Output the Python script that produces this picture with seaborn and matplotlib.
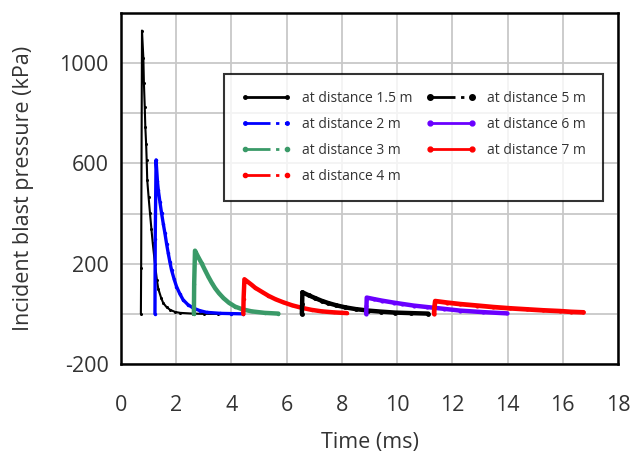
import matplotlib
matplotlib.use("Agg")
import matplotlib.pyplot as plt
from matplotlib.lines import Line2D
import seaborn as sns

# values (time in ms, pressure in kPa)
t_15 = [0.72, 0.73, 0.76, 0.81, 0.83, 0.86, 0.88, 0.91, 0.93, 0.95, 1.0, 1.05, 1.1, 1.15, 1.23, 1.3, 1.35, 1.45, 1.53, 1.65, 1.78, 1.95, 2.14, 2.6, 3.0, 3.5]
p_15 = [0, 183, 1130, 1020, 920, 827, 747, 678, 614, 534, 465, 401, 340, 282, 200, 135, 100, 65, 43, 27, 16, 8, 4, 1, 0, 0]

t_2 = [1.23, 1.24, 1.27, 1.32, 1.35, 1.41, 1.47, 1.53, 1.59, 1.65, 1.71, 1.77, 1.83, 1.92, 2.01, 2.13, 2.25, 2.42, 2.62, 2.85, 3.1, 3.6, 4.0, 4.42]
p_2 = [0, 300, 614, 528, 494, 446, 401, 360, 322, 280, 242, 207, 175, 140, 109, 80, 56, 37, 23, 13, 6, 2, 1, 0]

t_3 = [2.64, 2.65, 2.68, 2.8, 2.92, 3.04, 3.16, 3.28, 3.41, 3.55, 3.71, 3.9, 4.13, 4.4, 4.73, 5.2, 5.7]
p_3 = [0, 120, 252, 226, 202, 175, 149, 125, 102, 82, 63, 45, 29, 18, 10, 4, 1]

t_4 = [4.43, 4.44, 4.47, 4.6, 4.73, 4.86, 5.1, 5.34, 5.6, 5.88, 6.2, 6.55, 6.9, 7.27, 7.7, 8.18]
p_4 = [0, 60, 138, 127, 116, 104, 88, 72, 58, 46, 34, 24, 16, 10, 6, 3]

t_5 = [6.55, 6.56, 6.57, 6.8, 7.03, 7.27, 7.51, 7.8, 8.12, 8.5, 8.96, 9.4, 9.93, 10.5, 11.13]
p_5 = [0, 40, 86, 74, 63, 52, 43, 34, 26, 19, 13, 9, 5, 3, 1]

t_6 = [8.88, 8.89, 8.9, 9.16, 9.44, 9.87, 10.17, 10.6, 11.1, 11.7, 12.28, 13.1, 13.97]
p_6 = [0, 30, 65, 59, 53, 45, 40, 33, 27, 20, 13, 7, 2]

t_7 = [11.34, 11.35, 11.38, 11.8, 12.28, 12.9, 13.49, 14.1, 14.7, 15.3, 15.9, 16.3, 16.75]
p_7 = [0, 25, 51, 45, 39, 33, 27, 22, 18, 14, 11, 8, 6]

labels = ["at distance 1.5 m", "at distance 2 m", "at distance 3 m", "at distance 4 m",
          "at distance 5 m", "at distance 6 m", "at distance 7 m"]
colors = ["#000000", "#0000ff", "#3a9a68", "#ff0000", "#000000", "#6a00ff", "#ff0000"]

x_ticks = list(range(0, 19, 2))
y_ticks = [-200, 200, 600, 1000]

sns.set_style("white")
plt.rcParams['font.family'] = ['Open Sans', 'DejaVu Sans']
plt.rcParams['axes.unicode_minus'] = False

fig = plt.figure(figsize=(6.3, 4.54), dpi=100)
ax = fig.add_axes([121 / 630, 1 - 364 / 454, 497 / 630, 351 / 454])

series = [(t_15, p_15), (t_2, p_2), (t_3, p_3), (t_4, p_4), (t_5, p_5), (t_6, p_6), (t_7, p_7)]
widths = [1.5, 2.4, 3.2, 3.2, 3.2, 3.2, 3.4]
msizes = [2.2, 2.5, 2.5, 2.5, 3.5, 3, 3]
for (tt, pp), c, lw, ms in zip(series, colors, widths, msizes):
    sns.lineplot(x=tt, y=pp, ax=ax, color=c, linewidth=lw, marker='o',
                 markersize=ms, markeredgewidth=0, sort=False, estimator=None)

ax.set_xlim(0, 18)
ax.set_ylim(-200, 1200)
ax.set_xticks(x_ticks)
ax.set_yticks(y_ticks)
ax.set_yticks(range(-200, 1201, 200), minor=True)
ax.grid(True, which='both', axis='y', color='#c8c8c8', linewidth=1.3)
ax.grid(True, which='major', axis='x', color='#c8c8c8', linewidth=1.3)
ax.set_axisbelow(True)
ax.tick_params(which='both', length=0, labelsize=15.5, colors='#333333')
ax.tick_params(axis='x', pad=22)
ax.tick_params(axis='y', pad=9)
for s in ax.spines.values():
    s.set_color('black')
    s.set_linewidth(1.8)

ax.set_xlabel("Time (ms)", fontsize=15.5, color='#333333', labelpad=12)
ax.set_ylabel("Incident blast pressure (kPa)", fontsize=15.5, color='#333333', labelpad=18)

dashdot = (0, (9, 2, 1.2, 2))
styles = ['-', dashdot, dashdot, dashdot, dashdot, '-', '-']
handles = [Line2D([], [], color=c, linestyle=ls, linewidth=2, marker='o', markersize=ms)
           for c, ls, ms in zip(colors, styles, [2.5, 2.5, 3, 3, 4, 3.5, 3.5])]
leg = ax.legend(handles, labels, ncol=2,
                loc='upper left', bbox_to_anchor=(224 / 630, 1 - 74 / 454),
                bbox_transform=fig.transFigure, borderaxespad=0, fontsize=10,
                frameon=True, fancybox=False, numpoints=2, handlelength=3.6,
                columnspacing=1.0, labelspacing=0.8, borderpad=1.2, handletextpad=0.8)
leg.get_frame().set_edgecolor('black')
leg.get_frame().set_linewidth(1.5)
for txt in leg.get_texts():
    txt.set_color('#333333')

fig.savefig("out.png", dpi=100)
